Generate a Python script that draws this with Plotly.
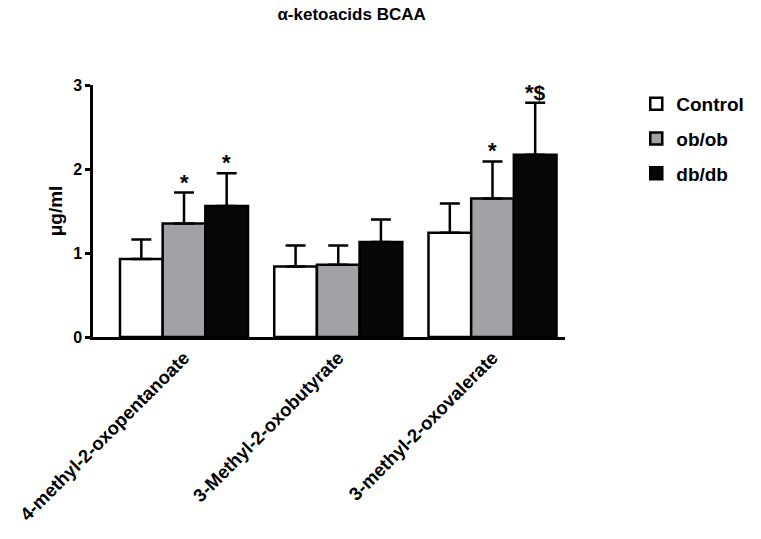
import plotly.graph_objects as go

categories = ["4-methyl-2-oxopentanoate", "3-Methyl-2-oxobutyrate", "3-methyl-2-oxovalerate"]
series_names = ["Control", "ob/ob", "db/db"]
control_vals = [0.93, 0.84, 1.24]
control_err = [0.23, 0.25, 0.35]
obob_vals = [1.35, 0.86, 1.65]
obob_err = [0.37, 0.23, 0.44]
dbdb_vals = [1.56, 1.13, 2.17]
dbdb_err = [0.39, 0.27, 0.62]
obob_marks = ["*", "", "*"]
dbdb_marks = ["*", "", "*$"]
y_ticks = [0, 1, 2, 3]

fills = ["#ffffff", "#a2a2a6", "#070707"]
FONT = "Liberation Sans, Arial, sans-serif"

fig = go.Figure()
series = [(control_vals, control_err), (obob_vals, obob_err), (dbdb_vals, dbdb_err)]
for k, (name, (vals, errs)) in enumerate(zip(series_names, series)):
    fig.add_trace(go.Bar(
        x=categories, y=vals, name="<b>%s</b>" % name, legendgroup=name,
        marker=dict(color=fills[k], line=dict(color="#000000", width=2.5)),
        error_y=dict(type="data", array=errs, arrayminus=[0] * len(errs), symmetric=False,
                     color="#000000", thickness=2.5, width=10),
    ))

bargap = 0.17
bw = (1 - bargap) / 3
ann = []
for i, cat in enumerate(categories):
    for k, (marks, vals, errs) in enumerate([(obob_marks, obob_vals, obob_err), (dbdb_marks, dbdb_vals, dbdb_err)]):
        if marks[i]:
            txt = "<b>" + marks[i].replace("$", "<span style='font-size:21px'>$</span>") + "</b>"
            ann.append(dict(x=i + k * bw, xref="x", y=vals[i] + errs[i], yref="y",
                            text=txt, showarrow=False, yanchor="bottom", yshift=-4,
                            font=dict(family=FONT, size=22, color="#000000")))

fig.update_layout(
    width=761, height=539,
    margin=dict(l=93, r=191, t=85, b=202),
    paper_bgcolor="white", plot_bgcolor="white",
    barmode="group", bargap=bargap, bargroupgap=0,
    title=dict(text="<b>α-ketoacids BCAA</b>", x=0.462, xanchor="center", y=0.985, yanchor="top",
               font=dict(family=FONT, size=17, color="#000000")),
    xaxis=dict(range=[-0.59, 2.47], showline=True, linecolor="#000000", linewidth=2.5,
               ticks="", tickangle=-45, showgrid=False, zeroline=False,
               tickfont=dict(family=FONT, size=18.5, color="#000000"),
               ticktext=["<b>%s</b>" % c for c in categories], tickvals=categories),
    yaxis=dict(range=[0, 3], tickvals=y_ticks, ticktext=["<b>%d</b>" % t for t in y_ticks],
               showline=True, linecolor="#000000", linewidth=2.5, ticks="outside", ticklen=5,
               tickwidth=2.5, tickcolor="#000000", showgrid=False, zeroline=False,
               tickfont=dict(family=FONT, size=16, color="#000000"),
               title=dict(text="<b>μg/ml</b>", standoff=6, font=dict(family=FONT, size=19, color="#000000"))),
    legend=dict(x=1.151, xanchor="left", y=1.0, yanchor="top", tracegroupgap=7,
                font=dict(family=FONT, size=19, color="#000000"), bgcolor="rgba(0,0,0,0)"),
    annotations=ann,
)

fig.write_html("out.html")
